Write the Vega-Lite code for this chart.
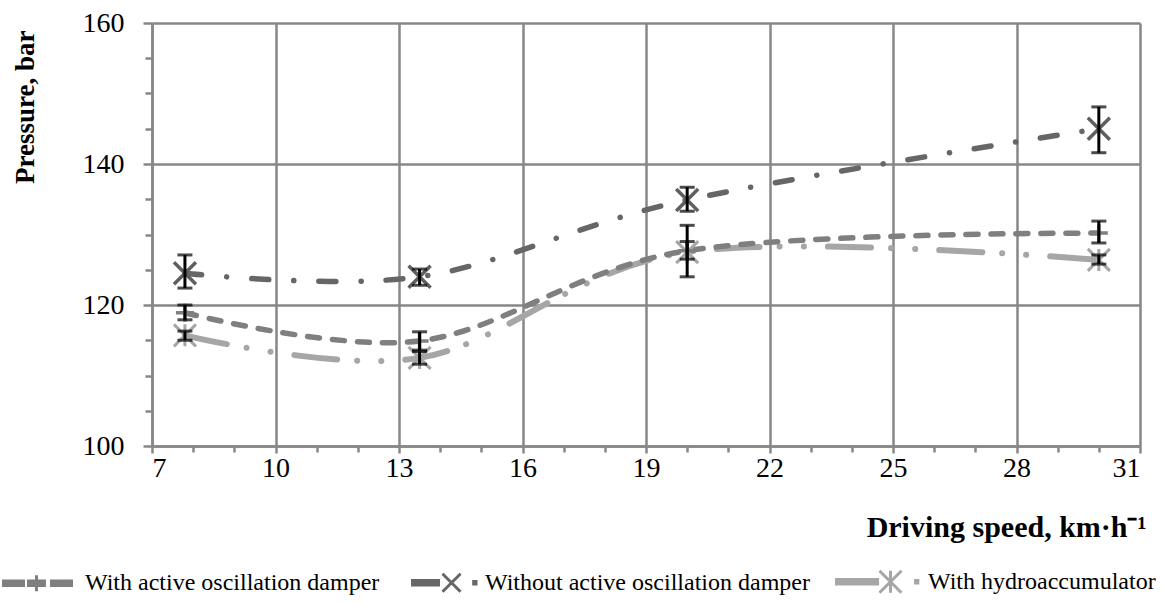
{
  "$schema": "https://vega.github.io/schema/vega-lite/v6.json",
  "width": 988,
  "height": 423,
  "autosize": {"type": "none"},
  "padding": {"left": 152, "top": 23, "right": 26, "bottom": 158},
  "background": "white",
  "config": {"font": "Liberation Serif", "view": {"stroke": null}},
  "data": {
    "values": [
      {"series": "With active oscillation damper", "speed": 7.8, "pressure": 118.9, "lo": 117.9, "hi": 120.0},
      {"series": "With active oscillation damper", "speed": 13.5, "pressure": 114.9, "lo": 113.6, "hi": 116.2},
      {"series": "With active oscillation damper", "speed": 20, "pressure": 127.7, "lo": 126.5, "hi": 129.0},
      {"series": "With active oscillation damper", "speed": 30, "pressure": 130.2, "lo": 128.8, "hi": 131.9},
      {"series": "Without active oscillation damper", "speed": 7.8, "pressure": 124.5, "lo": 122.4, "hi": 127.1},
      {"series": "Without active oscillation damper", "speed": 13.5, "pressure": 124.0, "lo": 122.8, "hi": 125.1},
      {"series": "Without active oscillation damper", "speed": 20, "pressure": 134.9, "lo": 133.3, "hi": 136.7},
      {"series": "Without active oscillation damper", "speed": 30, "pressure": 145.0, "lo": 141.6, "hi": 148.1},
      {"series": "With hydroaccumulator", "speed": 7.8, "pressure": 115.7, "lo": 115.0, "hi": 116.3},
      {"series": "With hydroaccumulator", "speed": 13.5, "pressure": 112.5, "lo": 111.6, "hi": 113.4},
      {"series": "With hydroaccumulator", "speed": 20, "pressure": 127.5, "lo": 124.0, "hi": 131.3},
      {"series": "With hydroaccumulator", "speed": 30, "pressure": 126.4, "lo": 125.8, "hi": 127.1}
    ]
  },
  "encoding": {
    "x": {
      "field": "speed", "type": "quantitative",
      "scale": {"domain": [7, 31], "nice": false, "zero": false},
      "axis": {
        "title": "Driving speed, km·h⁻¹",
        "values": [7,8,9,10,11,12,13,14,15,16,17,18,19,20,21,22,23,24,25,26,27,28,29,30,31],
        "labelExpr": "(datum.value - 7) % 3 === 0 ? datum.label : ''",
        "labelFont": "Liberation Serif", "labelFontSize": 28, "labelColor": "black", "labelPadding": 1,
        "domainColor": "#878787", "domainWidth": 2.5,
        "tickColor": "#878787", "tickWidth": 2.5,
        "tickSize": {"condition": {"test": "(datum.value - 7) % 3 === 0", "value": 7}, "value": 6},
        "grid": true, "gridColor": "#878787", "gridWidth": 2.5,
        "gridOpacity": {"condition": {"test": "(datum.value - 7) % 3 === 0", "value": 1}, "value": 0},
        "titleFont": "Liberation Serif", "titleFontSize": 30, "titleFontWeight": "bold", "titleColor": "black",
        "titleAnchor": "end", "titleAlign": "right", "titleBaseline": "middle", "titleX": 994, "titleY": 81
      }
    },
    "y": {
      "field": "pressure", "type": "quantitative",
      "scale": {"domain": [100, 160], "nice": false, "zero": false},
      "axis": {
        "title": "Pressure, bar",
        "values": [100,105,110,115,120,125,130,135,140,145,150,155,160],
        "labelExpr": "datum.value % 20 === 0 ? datum.label : ''",
        "labelFont": "Liberation Serif", "labelFontSize": 28, "labelColor": "black", "labelPadding": 19,
        "domainColor": "#878787", "domainWidth": 2.5,
        "tickColor": "#878787", "tickWidth": 2.5,
        "tickSize": {"condition": {"test": "datum.value % 20 === 0", "value": 9}, "value": 7},
        "grid": true, "gridColor": "#878787", "gridWidth": 2.5,
        "gridOpacity": {"condition": {"test": "datum.value % 20 === 0", "value": 1}, "value": 0},
        "titleFont": "Liberation Serif", "titleFontSize": 27, "titleFontWeight": "bold", "titleColor": "black",
        "titleAngle": -90, "titleAlign": "right", "titleBaseline": "middle", "titleX": -127, "titleY": 7
      }
    }
  },
  "layer": [
    {
      "transform": [{"filter": "datum.series === 'With hydroaccumulator'"}],
      "mark": {"type": "line", "interpolate": "cardinal", "color": "#a6a6a6", "strokeWidth": 6, "strokeCap": "round", "strokeDash": [43, 20, 0.1, 24, 0.1, 24]}
    },
    {
      "transform": [{"filter": "datum.series === 'With active oscillation damper'"}],
      "mark": {"type": "line", "interpolate": "cardinal", "color": "#7f7f7f", "strokeWidth": 5.5, "strokeCap": "round", "strokeDash": [12, 13]}
    },
    {
      "transform": [{"filter": "datum.series === 'Without active oscillation damper'"}],
      "mark": {"type": "line", "interpolate": "cardinal", "color": "#666666", "strokeWidth": 5.5, "strokeCap": "round", "strokeDash": [17, 25, 0.1, 25]}
    },
    {
      "transform": [{"filter": "datum.series === 'With hydroaccumulator'"}],
      "mark": {"type": "point", "shape": "M-1,-1L1,1M-1,1L1,-1M0,-1L0,1", "filled": false, "size": 484, "color": "#a6a6a6", "strokeWidth": 3, "opacity": 1}
    },
    {
      "transform": [{"filter": "datum.series === 'With active oscillation damper'"}],
      "mark": {"type": "point", "shape": "M-1,0L1,0M0,-1L0,1", "filled": false, "size": 324, "color": "#7f7f7f", "strokeWidth": 3.5, "opacity": 1}
    },
    {
      "transform": [{"filter": "datum.series === 'Without active oscillation damper'"}],
      "mark": {"type": "point", "shape": "M-1,-1L1,1M-1,1L1,-1", "filled": false, "size": 484, "color": "#5f5f5f", "strokeWidth": 3.5, "opacity": 1}
    },
    {
      "mark": {"type": "errorbar", "color": "black", "ticks": {"size": 15, "thickness": 3, "color": "black"}, "rule": {"strokeWidth": 3, "color": "black"}},
      "encoding": {
        "y": {"field": "lo", "type": "quantitative"},
        "y2": {"field": "hi"}
      }
    },
    {
      "mark": {"type": "point", "filled": true, "opacity": 0},
      "encoding": {
        "color": {
          "field": "series", "type": "nominal",
          "scale": {"domain": ["With active oscillation damper", "Without active oscillation damper", "With hydroaccumulator"], "range": ["#7f7f7f", "#666666", "#a6a6a6"]},
          "legend": {
            "orient": "none", "legendX": -152, "legendY": 519, "direction": "horizontal", "columns": 3,
            "title": null, "padding": 0, "symbolSize": 5776, "labelFontSize": 24, "labelFont": "Liberation Serif",
            "labelColor": "black", "labelOffset": 6, "labelLimit": 500, "columnPadding": 20,
            "encode": {"symbols": {"update": {"fill": {"scale": "color", "field": "value"}, "stroke": {"scale": "color", "field": "value"}, "strokeWidth": {"value": 3}, "opacity": {"value": 1}}}}
          }
        },
        "shape": {
          "field": "series", "type": "nominal",
          "scale": {"domain": ["With active oscillation damper", "Without active oscillation damper", "With hydroaccumulator"],
            "range": [
              "M-0.947,-0.059H-0.421V0.059H-0.947Z M-0.29,-0.059H0.13V0.059H-0.29Z M0.316,-0.059H0.842V0.059H0.316Z M-0.079,-0.21V0.21",
              "M-0.71,-0.059H-0.026V0.059H-0.71Z M0.079,-0.237L0.553,0.237 M0.079,0.237L0.553,-0.237 M0.9,-0.03H0.96V0.03H0.9Z",
              "M-1.21,-0.059H-0.13V0.059H-1.21Z M-0.08,-0.29L0.5,0.29 M-0.08,0.29L0.5,-0.29 M0.21,-0.29V0.29 M0.87,-0.03H0.93V0.03H0.87Z"
            ]},
          "legend": {
            "orient": "none", "legendX": -152, "legendY": 519, "direction": "horizontal", "columns": 3,
            "title": null, "padding": 0, "symbolSize": 5776, "labelFontSize": 24, "labelFont": "Liberation Serif",
            "labelColor": "black", "labelOffset": 6, "labelLimit": 500, "columnPadding": 20,
            "encode": {"symbols": {"update": {"fill": {"scale": "color", "field": "value"}, "stroke": {"scale": "color", "field": "value"}, "strokeWidth": {"value": 3}, "opacity": {"value": 1}}}}
          }
        }
      }
    }
  ]
}
